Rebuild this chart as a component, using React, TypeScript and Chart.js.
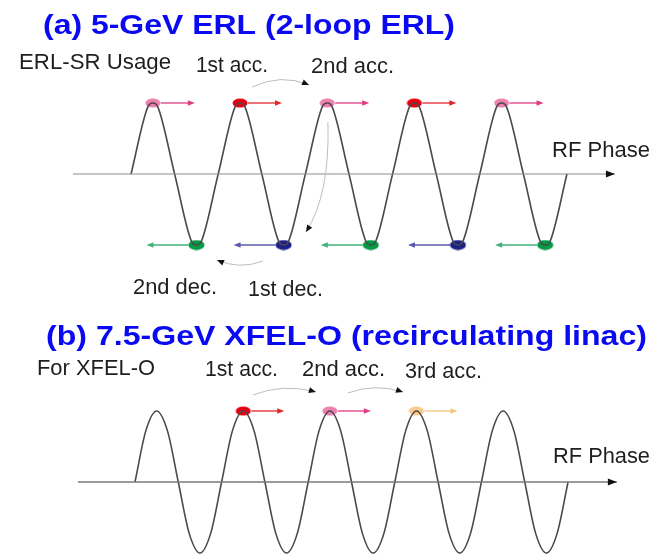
import { useEffect, useRef } from "react";
import { Chart, registerables } from "chart.js";

Chart.register(...registerables);

// ---- data (RF phase in degrees, normalized RF voltage) ----
const phaseA = [0, 70, 90, 110, 180, 250, 270, 290, 360, 430, 450, 470, 540, 610, 630, 650, 720, 790, 810, 830, 900, 970, 990, 1010, 1080, 1150, 1170, 1190, 1260, 1330, 1350, 1370, 1440, 1510, 1530, 1550, 1620, 1690, 1710, 1730, 1800];
const voltageA = [0, 0.95, 1, 0.95, 0, -0.95, -1, -0.95, 0, 0.95, 1, 0.95, 0, -0.95, -1, -0.95, 0, 0.95, 1, 0.95, 0, -0.95, -1, -0.95, 0, 0.95, 1, 0.95, 0, -0.95, -1, -0.95, 0, 0.95, 1, 0.95, 0, -0.95, -1, -0.95, 0];
const phaseB = [0, 45, 90, 135, 180, 225, 270, 315, 360, 405, 450, 495, 540, 585, 630, 675, 720, 765, 810, 855, 900, 945, 990, 1035, 1080, 1125, 1170, 1215, 1260, 1305, 1350, 1395, 1440, 1485, 1530, 1575, 1620, 1665, 1710, 1755, 1800];
const voltageB = [0, 0.72, 1, 0.72, 0, -0.72, -1, -0.72, 0, 0.72, 1, 0.72, 0, -0.72, -1, -0.72, 0, 0.72, 1, 0.72, 0, -0.72, -1, -0.72, 0, 0.72, 1, 0.72, 0, -0.72, -1, -0.72, 0, 0.72, 1, 0.72, 0, -0.72, -1, -0.72, 0];
const axisRangeA = [-240, 1998];
const axisRangeB = [-237, 2003];

const accPhasesA = [90, 450, 810, 1170, 1530];
const accKindsA = ["pink", "red", "pink", "red", "pink"];
const decPhasesA = [270, 630, 990, 1350, 1710];
const decKindsA = ["green", "blue", "green", "blue", "green"];
const accPhasesB = [450, 810, 1170];
const accKindsB = ["red", "pink", "orange"];

const dotColor: Record<string, string> = {
  pink: "#ee7fae",
  red: "#e60012",
  green: "#009944",
  blue: "#1d2088",
  orange: "#f9c98f",
};
const arrowColor: Record<string, string> = {
  pink: "#de3c82",
  red: "#e3262c",
  green: "#3fb37a",
  blue: "#5b5baa",
  orange: "#f4c57e",
};

function ellipse(color: string, w: number, h: number) {
  const c = document.createElement("canvas");
  c.width = w;
  c.height = h;
  const g = c.getContext("2d")!;
  g.fillStyle = color;
  g.beginPath();
  g.ellipse(w / 2, h / 2, w / 2 - 0.5, h / 2 - 0.5, 0, 0, Math.PI * 2);
  g.fill();
  return c;
}

function head(ctx: CanvasRenderingContext2D, x: number, y: number, ang: number, len: number, half: number, color: string) {
  ctx.save();
  ctx.translate(x, y);
  ctx.rotate(ang);
  ctx.fillStyle = color;
  ctx.beginPath();
  ctx.moveTo(0, 0);
  ctx.lineTo(-len, -half);
  ctx.lineTo(-len, half);
  ctx.closePath();
  ctx.fill();
  ctx.restore();
}

type Label = { text: string; left: number; right: number; base: number; font: string; color: string };
const TXT = "#1e1e1e";
const BLUE = "#0a0af2";
const labels: Label[] = [
  { text: "(a) 5-GeV ERL (2-loop ERL)", left: 43, right: 455, base: 34, font: "bold 27px 'Liberation Sans', Arial, sans-serif", color: BLUE },
  { text: "ERL-SR Usage", left: 19, right: 171, base: 69, font: "22px 'Liberation Sans', Arial, sans-serif", color: TXT },
  { text: "1st acc.", left: 196, right: 268, base: 72, font: "22px 'Liberation Sans', Arial, sans-serif", color: TXT },
  { text: "2nd acc.", left: 311, right: 394, base: 73, font: "22px 'Liberation Sans', Arial, sans-serif", color: TXT },
  { text: "RF Phase", left: 552, right: 650, base: 157, font: "22px 'Liberation Sans', Arial, sans-serif", color: TXT },
  { text: "2nd dec.", left: 133, right: 217, base: 294, font: "22px 'Liberation Sans', Arial, sans-serif", color: TXT },
  { text: "1st dec.", left: 248, right: 323, base: 296, font: "22px 'Liberation Sans', Arial, sans-serif", color: TXT },
  { text: "(b) 7.5-GeV XFEL-O (recirculating linac)", left: 46, right: 647, base: 345, font: "bold 27px 'Liberation Sans', Arial, sans-serif", color: BLUE },
  { text: "For XFEL-O", left: 37, right: 155, base: 375, font: "22px 'Liberation Sans', Arial, sans-serif", color: TXT },
  { text: "1st acc.", left: 205, right: 278, base: 376, font: "22px 'Liberation Sans', Arial, sans-serif", color: TXT },
  { text: "2nd acc.", left: 302, right: 385, base: 376, font: "22px 'Liberation Sans', Arial, sans-serif", color: TXT },
  { text: "3rd acc.", left: 405, right: 482, base: 378, font: "22px 'Liberation Sans', Arial, sans-serif", color: TXT },
  { text: "RF Phase", left: 553, right: 650, base: 463, font: "22px 'Liberation Sans', Arial, sans-serif", color: TXT },
];

// curved transfer arrows, in data units [phase, voltage] of the panel axes
type Arc = { xs: string; ys: string; p0: number[]; c: number[]; p1: number[] };
const arcs: Arc[] = [
  { xs: "xa", ys: "ya", p0: [500, 1.225], c: [620, 1.42], p1: [735, 1.254] },
  { xs: "xa", ys: "ya", p0: [813, 0.732], c: [822, -0.296], p1: [722, -0.817] },
  { xs: "xa", ys: "ya", p0: [545, -1.225], c: [450, -1.352], p1: [355, -1.211] },
  { xs: "xb", ys: "yb", p0: [490, 1.225], c: [615, 1.394], p1: [752, 1.268] },
  { xs: "xb", ys: "yb", p0: [885, 1.254], c: [998, 1.394], p1: [1114, 1.268] },
];

const diagramPlugin = {
  id: "diagram",
  afterDatasetsDraw(chart: any) {
    const ctx: CanvasRenderingContext2D = chart.ctx;
    const s = chart.scales;
    ctx.save();
    // axis arrowheads
    head(ctx, s.xa.getPixelForValue(axisRangeA[1]), s.ya.getPixelForValue(0), 0, 9, 3.5, "#111");
    head(ctx, s.xb.getPixelForValue(axisRangeB[1]), s.yb.getPixelForValue(0), 0, 9, 3.5, "#111");

    // bunch direction arrows
    const bunchArrow = (xs: string, ys: string, phase: number, v: number, kind: string, dir: number, len: number) => {
      const x = s[xs].getPixelForValue(phase);
      const y = s[ys].getPixelForValue(v);
      ctx.strokeStyle = arrowColor[kind];
      ctx.lineWidth = 1.3;
      ctx.beginPath();
      ctx.moveTo(x + dir * 8, y);
      ctx.lineTo(x + dir * (len - 5), y);
      ctx.stroke();
      head(ctx, x + dir * len, y, dir > 0 ? 0 : Math.PI, 7, 2.8, arrowColor[kind]);
    };
    accPhasesA.forEach((p, i) => bunchArrow("xa", "ya", p, 1, accKindsA[i], 1, 42));
    decPhasesA.forEach((p, i) => bunchArrow("xa", "ya", p, -1, decKindsA[i], -1, 50));
    accPhasesB.forEach((p, i) => bunchArrow("xb", "yb", p, 1, accKindsB[i], 1, 41));

    // transfer arcs
    arcs.forEach((a) => {
      const X = (v: number) => s[a.xs].getPixelForValue(v);
      const Y = (v: number) => s[a.ys].getPixelForValue(v);
      const x0 = X(a.p0[0]), y0 = Y(a.p0[1]);
      const cx = X(a.c[0]), cy = Y(a.c[1]);
      const x1 = X(a.p1[0]), y1 = Y(a.p1[1]);
      ctx.strokeStyle = "#bdbdbd";
      ctx.lineWidth = 1;
      ctx.beginPath();
      ctx.moveTo(x0, y0);
      ctx.quadraticCurveTo(cx, cy, x1, y1);
      ctx.stroke();
      head(ctx, x1, y1, Math.atan2(y1 - cy, x1 - cx), 7, 3, "#111");
    });

    // text
    ctx.textBaseline = "alphabetic";
    ctx.textAlign = "left";
    labels.forEach((l) => {
      ctx.font = l.font;
      const w = ctx.measureText(l.text).width;
      const sx = (l.right - l.left) / w;
      ctx.save();
      ctx.translate(l.left, l.base);
      ctx.scale(sx, 1);
      ctx.fillStyle = l.color;
      ctx.fillText(l.text, 0, 0);
      ctx.restore();
    });
    ctx.restore();
  },
};

export default function App() {
  const ref = useRef<HTMLCanvasElement>(null);
  useEffect(() => {
    const canvas = ref.current!;
    const imgA = (k: string) => ellipse(dotColor[k], 16, 10);
    const chart = new Chart(canvas, {
      type: "line",
      data: {
        datasets: [
          {
            data: axisRangeA.map((x) => ({ x, y: 0 })),
            xAxisID: "xa", yAxisID: "ya",
            borderColor: "#8c8c8c", borderWidth: 1, pointRadius: 0,
          },
          {
            data: phaseA.map((x, i) => ({ x, y: voltageA[i] })),
            xAxisID: "xa", yAxisID: "ya",
            borderColor: "#4a4a4a", borderWidth: 1.6, pointRadius: 0,
            cubicInterpolationMode: "monotone",
          },
          {
            data: accPhasesA.map((x) => ({ x, y: 1 })),
            xAxisID: "xa", yAxisID: "ya", showLine: false,
            pointStyle: accKindsA.map(imgA) as any, pointRadius: 8,
          },
          {
            data: decPhasesA.map((x) => ({ x, y: -1 })),
            xAxisID: "xa", yAxisID: "ya", showLine: false,
            pointStyle: decKindsA.map((k) => ellipse(dotColor[k], 17, 11)) as any, pointRadius: 8,
          },
          {
            data: axisRangeB.map((x) => ({ x, y: 0 })),
            xAxisID: "xb", yAxisID: "yb",
            borderColor: "#7a7a7a", borderWidth: 1.5, pointRadius: 0,
          },
          {
            data: phaseB.map((x, i) => ({ x, y: voltageB[i] })),
            xAxisID: "xb", yAxisID: "yb",
            borderColor: "#4a4a4a", borderWidth: 1.6, pointRadius: 0,
            cubicInterpolationMode: "monotone",
          },
          {
            data: accPhasesB.map((x) => ({ x, y: 1 })),
            xAxisID: "xb", yAxisID: "yb", showLine: false,
            pointStyle: accKindsB.map(imgA) as any, pointRadius: 8,
          },
        ] as any,
      },
      options: {
        animation: false,
        responsive: false,
        devicePixelRatio: 1,
        layout: { padding: 0, autoPadding: false },
        plugins: { legend: { display: false }, tooltip: { enabled: false }, title: { display: false } },
        events: [],
        scales: {
          xa: { type: "linear", display: false, min: -541, max: 2180 },
          ya: { type: "linear", display: false, min: -5.394, max: 2.4507 },
          xb: { type: "linear", display: false, min: -561, max: 2178 },
          yb: { type: "linear", display: false, min: -1.0563, max: 6.7887 },
        },
      },
      plugins: [diagramPlugin],
    });
    return () => chart.destroy();
  }, []);
  return (
    <div style={{ position: "absolute", left: 0, top: 0, width: 659, height: 557, background: "#fff" }}>
      <canvas ref={ref} width={659} height={557} style={{ display: "block", width: 659, height: 557 }} />
    </div>
  );
}
